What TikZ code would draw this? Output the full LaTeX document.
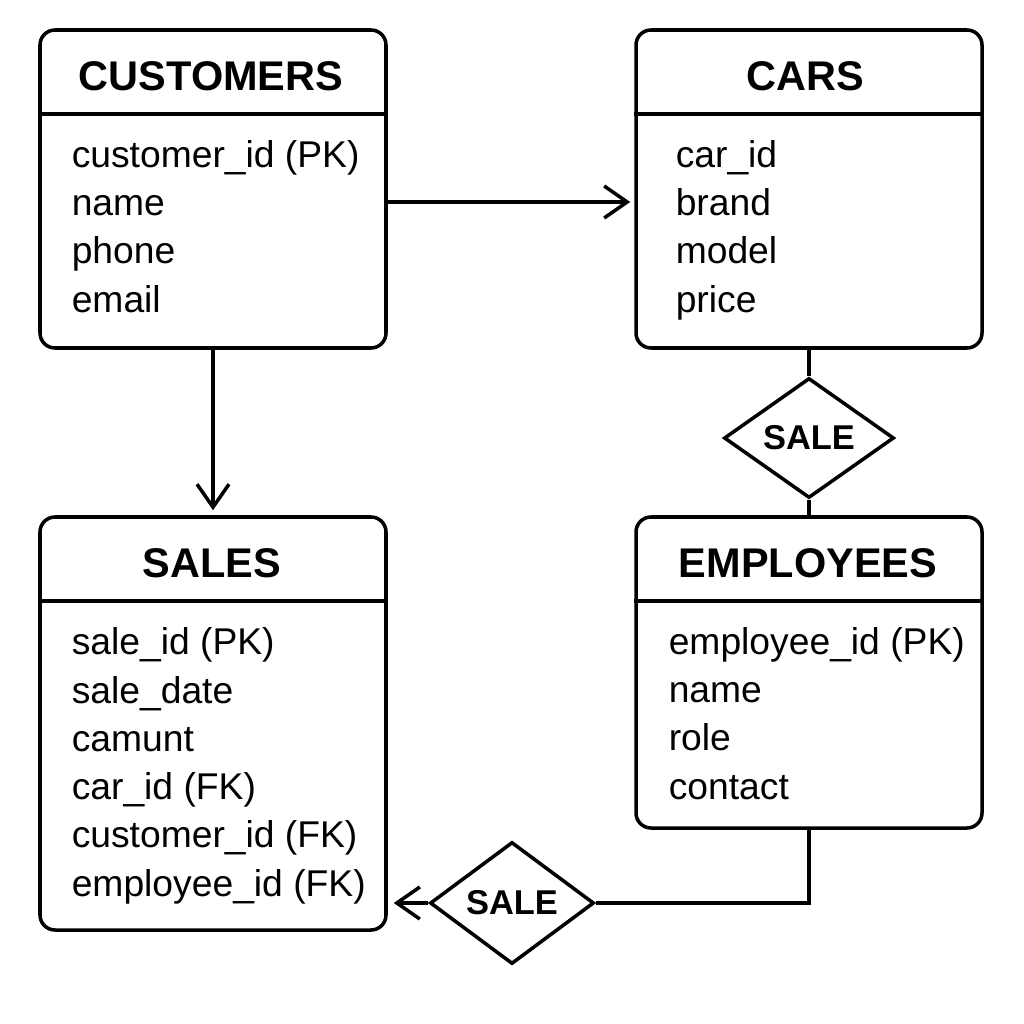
\documentclass[tikz,border=0pt]{standalone}
\usepackage{fontspec}
\setmainfont{Liberation Sans}
\usetikzlibrary{arrows.meta, shapes.geometric}

\begin{document}
\begin{tikzpicture}[
    x=0.1mm, y=-0.1mm,
    >={Straight Barb[length=2.3mm, width=3.2mm]},
    line width=1pt,
    entity/.style={draw, rounded corners=1.5mm, minimum width=34.6mm, inner sep=0pt},
    title/.style={anchor=base, font=\fontsize{11.8}{13}\selectfont\bfseries, inner sep=0pt},
    attrs/.style={anchor=base west, align=left, inner sep=0pt,
        font=\fontsize{10.6}{13.72}\selectfont},
    relation/.style={draw, diamond, inner sep=0pt, font=\fontsize{9.8}{11}\selectfont\bfseries}
]

\useasboundingbox[fill=white] (0,0) rectangle (1024,1024);

% Entity boxes
\node[entity, minimum height=31.8mm] (customers) at (213,189) {};
\node[entity, minimum height=31.8mm] (cars) at (809,189) {};
\node[entity, minimum height=41.3mm] (sales) at (213,723.5) {};
\node[entity, minimum height=31.1mm] (employees) at (809,672.5) {};

% Header dividers
\foreach \e in {customers, cars, sales, employees} {
    \draw ([yshift=-8.6mm]\e.north west) -- ([yshift=-8.6mm]\e.north east);
}

% Titles
\node[title] (customers-t) at (211,91) {CUSTOMERS};
\node[title] (cars-t) at (805,91) {CARS};
\node[title] (sales-t) at (212,577) {SALES};
\node[title] (employees-t) at (808,577) {EMPLOYEES};

% Attributes (anchored at the last baseline)
\node[attrs] (customers-a) at (70,312)
    {customer\_id (PK)\\name\\phone\\email};
\node[attrs] (cars-a) at (674,312)
    {car\_id\\brand\\model\\price};
\node[attrs] (sales-a) at (70,896)
    {sale\_id (PK)\\sale\_date\\camunt\\car\_id (FK)\\customer\_id (FK)\\employee\_id (FK)};
\node[attrs] (employees-a) at (667,799)
    {employee\_id (PK)\\name\\role\\contact};

% Relationships
\node[relation, minimum width=17mm, minimum height=12mm] (sale1) at (809,438) {SALE};
\node[relation, minimum width=16.4mm, minimum height=12.2mm] (sale2) at (512,903) {SALE};

% Connectors
\draw[->] ([yshift=-1.3mm]customers.east) -- ([yshift=-1.3mm, xshift=-0.4mm]cars.west);
\draw[->, shorten >=0.5mm] (customers.south) -- (sales.north);
\draw (cars.south) -- (sale1.north);
\draw (sale1.south) -- (employees.north);
\draw (employees.south) |- (sale2.east);
\draw[->, shorten >=0.6mm] (sale2.west) -- (sales.east |- sale2.west);
\end{tikzpicture}
\end{document}
